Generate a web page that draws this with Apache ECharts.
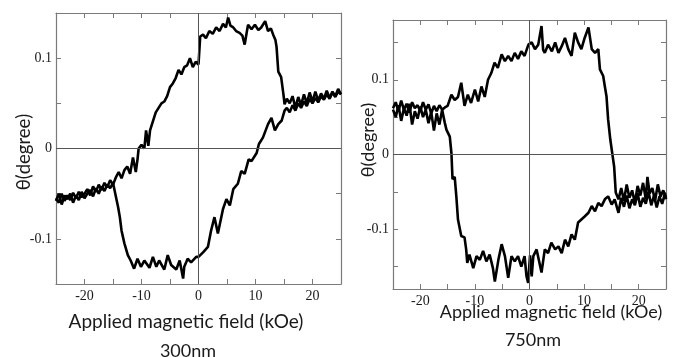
<!DOCTYPE html>
<html>
<head>
<meta charset="utf-8">
<script src="https://cdn.jsdelivr.net/npm/echarts@6/dist/echarts.min.js"></script>
<style>html,body{margin:0;padding:0;background:#fff}#c{width:676px;height:357px}</style>
</head>
<body>
<div id="c"></div>
<script>
// ---- data: [field (kOe), theta (degree)] ----
var leftUpper = [[-25,-0.055],[-24.5,-0.06],[-24,-0.05],[-23.5,-0.058],[-23,-0.052],[-22.5,-0.057],[-22,-0.049],[-21.5,-0.055],[-21,-0.048],[-20.5,-0.054],[-20,-0.05],[-19.5,-0.045],[-19,-0.052],[-18.5,-0.042],[-18,-0.048],[-17.5,-0.04],[-17,-0.046],[-16.5,-0.038],[-16,-0.043],[-15.5,-0.035],[-15,-0.04],[-14.5,-0.032],[-14,-0.026],[-13.5,-0.033],[-13,-0.024],[-12.5,-0.02],[-12,-0.028],[-11.5,-0.01],[-11,-0.026],[-10.7,-0.012],[-10.5,0.0],[-10,0.004],[-9.5,0.0],[-9.2,0.02],[-8.8,0.003],[-8.5,0.02],[-8,0.03],[-7.5,0.04],[-7,0.045],[-6.5,0.05],[-6,0.052],[-5.5,0.058],[-5,0.068],[-4.5,0.072],[-4,0.078],[-3.5,0.087],[-3,0.082],[-2.5,0.09],[-2,0.092],[-1.5,0.1],[-1,0.09],[-0.5,0.096],[0,0.093],[0.3,0.124],[0.8,0.126],[1.3,0.122],[1.9,0.13],[2.5,0.127],[3.1,0.134],[3.7,0.13],[4.3,0.138],[4.8,0.134],[5.2,0.145],[5.6,0.136],[6.1,0.134],[6.6,0.13],[7.2,0.128],[7.7,0.125],[8.1,0.115],[8.5,0.13],[8.7,0.137],[9.3,0.132],[9.9,0.137],[10.5,0.131],[11,0.134],[11.7,0.141],[12.2,0.13],[12.7,0.133],[13.1,0.126],[13.5,0.12],[13.7,0.112],[14,0.085],[14.5,0.079],[14.9,0.06],[15.1,0.049],[15.5,0.055],[16,0.05],[16.5,0.058],[17,0.045],[17.5,0.057],[18,0.048],[18.5,0.06],[19,0.05],[19.5,0.062],[20,0.052],[20.5,0.063],[21,0.053],[21.5,0.061],[22,0.055],[22.5,0.064],[23,0.056],[23.5,0.063],[24,0.058],[24.5,0.066],[25,0.06]];
var leftLower = [[-25,-0.058],[-24.5,-0.05],[-24,-0.062],[-23.5,-0.052],[-23,-0.056],[-22.5,-0.05],[-22,-0.06],[-21.5,-0.052],[-21,-0.057],[-20.5,-0.048],[-20,-0.055],[-19.5,-0.05],[-19,-0.046],[-18.5,-0.053],[-18,-0.044],[-17.5,-0.05],[-17,-0.042],[-16.5,-0.047],[-16,-0.04],[-15.5,-0.044],[-15,-0.038],[-14.6,-0.05],[-14.1,-0.065],[-13.8,-0.076],[-13.5,-0.091],[-13,-0.105],[-12.4,-0.118],[-11.9,-0.124],[-11.3,-0.133],[-10.7,-0.122],[-10.1,-0.131],[-9.5,-0.124],[-8.6,-0.132],[-8,-0.12],[-7.4,-0.131],[-6.9,-0.124],[-6,-0.134],[-5.4,-0.118],[-4.8,-0.129],[-3.9,-0.134],[-3.3,-0.124],[-2.7,-0.144],[-2.5,-0.131],[-1.9,-0.122],[-1.3,-0.126],[-0.4,-0.12],[0,-0.12],[0.8,-0.115],[1.65,-0.109],[2.2,-0.091],[2.8,-0.076],[3.4,-0.094],[4.3,-0.067],[4.9,-0.056],[5.5,-0.063],[6.1,-0.045],[6.9,-0.039],[7.5,-0.025],[8.1,-0.028],[8.8,-0.012],[9.3,-0.014],[10.2,-0.005],[10.6,0.005],[11.3,0.012],[12.2,0.027],[12.8,0.034],[13.4,0.02],[14,0.027],[14.6,0.031],[15.1,0.042],[15.5,0.045],[16,0.04],[16.5,0.048],[17,0.042],[17.5,0.05],[18,0.045],[18.5,0.052],[19,0.047],[19.5,0.055],[20,0.05],[20.5,0.056],[21,0.051],[21.5,0.058],[22,0.054],[22.5,0.06],[23,0.055],[23.5,0.062],[24,0.057],[24.5,0.063],[25,0.06]];
var rightUpper = [[-25,0.062],[-24.5,0.07],[-24,0.058],[-23.5,0.072],[-23,0.06],[-22.5,0.068],[-22,0.056],[-21.5,0.07],[-21,0.062],[-20.5,0.066],[-20,0.058],[-19.5,0.07],[-19,0.06],[-18.5,0.067],[-18,0.055],[-17.5,0.065],[-17,0.058],[-16.5,0.066],[-16,0.06],[-15.5,0.063],[-15,0.065],[-14.3,0.08],[-13.7,0.073],[-13.1,0.077],[-12.5,0.096],[-11.9,0.065],[-11.3,0.08],[-10.7,0.069],[-10,0.087],[-9.4,0.071],[-8.8,0.091],[-8.2,0.077],[-7.6,0.1],[-7,0.109],[-6.4,0.123],[-5.8,0.116],[-5.1,0.134],[-4.5,0.125],[-3.9,0.132],[-3.3,0.125],[-2.7,0.136],[-2.1,0.128],[-1.5,0.138],[-0.9,0.132],[-0.2,0.147],[0.4,0.15],[1,0.141],[1.6,0.147],[2.2,0.172],[2.5,0.14],[2.8,0.136],[3.4,0.147],[4.1,0.138],[4.7,0.15],[5.3,0.136],[5.9,0.145],[6.5,0.156],[7.1,0.141],[7.7,0.132],[8.3,0.163],[8.9,0.15],[9.5,0.141],[10.1,0.156],[10.8,0.17],[11.4,0.141],[12,0.136],[12.6,0.141],[12.9,0.114],[13.5,0.105],[13.8,0.091],[14.1,0.078],[14.4,0.047],[14.8,0.02],[15.05,0.007],[15.5,-0.016],[15.8,-0.051],[16.3,-0.06],[16.8,-0.045],[17.3,-0.062],[17.8,-0.04],[18.3,-0.058],[18.8,-0.048],[19.3,-0.065],[19.8,-0.042],[20.3,-0.055],[20.8,-0.038],[21.3,-0.06],[21.6,-0.03],[22,-0.052],[22.5,-0.045],[23,-0.062],[23.5,-0.04],[24,-0.056],[24.5,-0.048],[25,-0.058]];
var rightLower = [[-25,0.06],[-24.5,0.05],[-24,0.066],[-23.5,0.045],[-23,0.062],[-22.5,0.052],[-22,0.068],[-21.5,0.04],[-21,0.058],[-20.5,0.048],[-20,0.064],[-19.5,0.05],[-19,0.06],[-18.5,0.042],[-18,0.057],[-17.5,0.032],[-17,0.055],[-16.5,0.04],[-16,0.06],[-15.5,0.042],[-15.2,0.033],[-14.6,0.024],[-14.3,0.002],[-14.1,-0.033],[-13.7,-0.03],[-13.4,-0.056],[-13.1,-0.087],[-12.5,-0.109],[-11.9,-0.111],[-11.6,-0.127],[-11.4,-0.145],[-11,-0.134],[-10.3,-0.152],[-9.7,-0.136],[-9.1,-0.141],[-8.5,-0.129],[-7.9,-0.143],[-7.3,-0.134],[-6.7,-0.152],[-6.35,-0.17],[-5.7,-0.141],[-5.1,-0.12],[-4.5,-0.136],[-3.9,-0.165],[-3.3,-0.136],[-2.7,-0.143],[-2.1,-0.136],[-1.5,-0.15],[-0.9,-0.136],[-0.55,-0.163],[-0.25,-0.172],[0.1,-0.135],[0.4,-0.163],[0.7,-0.136],[1.3,-0.127],[2.2,-0.158],[2.8,-0.127],[3.4,-0.132],[4,-0.118],[4.7,-0.127],[5.3,-0.123],[5.9,-0.132],[6.5,-0.114],[7.1,-0.123],[7.7,-0.107],[8.3,-0.114],[8.9,-0.091],[9.5,-0.087],[10.1,-0.083],[10.8,-0.078],[11.4,-0.069],[12,-0.076],[12.6,-0.065],[13.2,-0.069],[13.8,-0.06],[14.4,-0.056],[15.05,-0.067],[15.6,-0.06],[16.3,-0.078],[16.8,-0.058],[17.3,-0.07],[17.8,-0.055],[18.3,-0.072],[18.8,-0.06],[19.3,-0.068],[19.8,-0.052],[20.3,-0.07],[20.8,-0.058],[21.3,-0.066],[21.8,-0.05],[22.3,-0.068],[22.8,-0.055],[23.3,-0.071],[23.8,-0.056],[24.3,-0.066],[24.8,-0.052],[25,-0.06]];

var xTicks = [-25,-20,-15,-10,-5,0,5,10,15,20,25];
var xLabels = [-20,-10,0,10,20];
var leftYTicks = [-0.15,-0.1,-0.05,0,0.05,0.1,0.15];
var rightYTicks = [-0.15,-0.1,-0.05,0,0.05,0.1,0.15];
var yLabels = [-0.1,0,0.1];
var leftRange = [-0.15,0.15];
var rightRange = [-0.18,0.18];
var xRange = [-25,25];

var axisColor = '#7a7a7a';
var textColor = '#1a1a1a';
var serif = '"Liberation Serif","Times New Roman",serif';
var sans = 'Lato,"Open Sans",sans-serif';

function fmtY(v){ if (Math.abs(v) < 1e-9) return '0'; return (Math.round(v*10)/10).toString(); }

function xAxes(gi){
  return [
    {gridIndex:gi,type:'value',min:xRange[0],max:xRange[1],position:'bottom',
     axisLine:{show:true,onZero:false,lineStyle:{color:axisColor,width:1.2}},
     axisTick:{inside:true,length:5,customValues:xTicks,lineStyle:{color:axisColor}},
     axisLabel:{customValues:xLabels,fontFamily:serif,fontSize:14,color:textColor,margin:5},
     splitLine:{show:false}},
    {gridIndex:gi,type:'value',min:xRange[0],max:xRange[1],position:'top',
     axisLine:{show:true,onZero:false,lineStyle:{color:axisColor,width:1.2}},
     axisTick:{inside:true,length:5,customValues:xTicks,lineStyle:{color:axisColor}},
     axisLabel:{show:false},splitLine:{show:false}}
  ];
}
function yAxes(gi, range, ticks){
  return [
    {gridIndex:gi,type:'value',min:range[0],max:range[1],position:'left',
     axisLine:{show:true,onZero:false,lineStyle:{color:axisColor,width:1.2}},
     axisTick:{inside:true,length:5,customValues:ticks,lineStyle:{color:axisColor}},
     axisLabel:{customValues:yLabels,formatter:fmtY,fontFamily:serif,fontSize:14,color:textColor,margin:4},
     splitLine:{show:false}},
    {gridIndex:gi,type:'value',min:range[0],max:range[1],position:'right',
     axisLine:{show:true,onZero:false,lineStyle:{color:axisColor,width:1.2}},
     axisTick:{inside:true,length:5,customValues:ticks,lineStyle:{color:axisColor}},
     axisLabel:{show:false},splitLine:{show:false}}
  ];
}
function loopSeries(data, xi, yi, withCross){
  var s = {type:'line',data:data,xAxisIndex:xi,yAxisIndex:yi,showSymbol:false,symbol:'none',
    lineStyle:{color:'#000',width:2.6},animation:false,z:3};
  if (withCross) {
    s.markLine = {silent:true,symbol:['none','none'],label:{show:false},animation:false,
      lineStyle:{color:'#555',width:1,type:'solid'},data:[{xAxis:0},{yAxis:0}]};
  }
  return s;
}

var chart = echarts.init(document.getElementById('c'), null, {renderer:'canvas'});
chart.setOption({
  animation:false,
  backgroundColor:'#fff',
  grid:[
    {left:56,top:13,width:285,height:271},
    {left:393,top:20,width:273,height:269}
  ],
  xAxis: xAxes(0).concat(xAxes(1)),
  yAxis: yAxes(0,leftRange,leftYTicks).concat(yAxes(1,rightRange,rightYTicks)),
  series:[
    loopSeries(leftUpper,0,0,true),
    loopSeries(leftLower,0,0,false),
    loopSeries(rightUpper,2,2,true),
    loopSeries(rightLower,2,2,false)
  ],
  graphic:[
    {type:'text',x:186,y:322,style:{text:'Applied magnetic field (kOe)',font:'19px '+sans,fill:textColor,align:'center',verticalAlign:'middle'}},
    {type:'text',x:188,y:351,style:{text:'300nm',font:'18px '+sans,fill:textColor,align:'center',verticalAlign:'middle'}},
    {type:'text',x:551,y:312,style:{text:'Applied magnetic field (kOe)',font:'18px '+sans,fill:textColor,align:'center',verticalAlign:'middle'}},
    {type:'text',x:533,y:340,style:{text:'750nm',font:'18px '+sans,fill:textColor,align:'center',verticalAlign:'middle'}},
    {type:'text',x:24,y:152,rotation:Math.PI/2,style:{text:'θ(degree)',font:'18.5px '+sans,fill:textColor,align:'center',verticalAlign:'middle'}},
    {type:'text',x:368,y:140,rotation:Math.PI/2,style:{text:'θ(degree)',font:'18px '+sans,fill:textColor,align:'center',verticalAlign:'middle'}}
  ]
});
</script>
</body>
</html>
